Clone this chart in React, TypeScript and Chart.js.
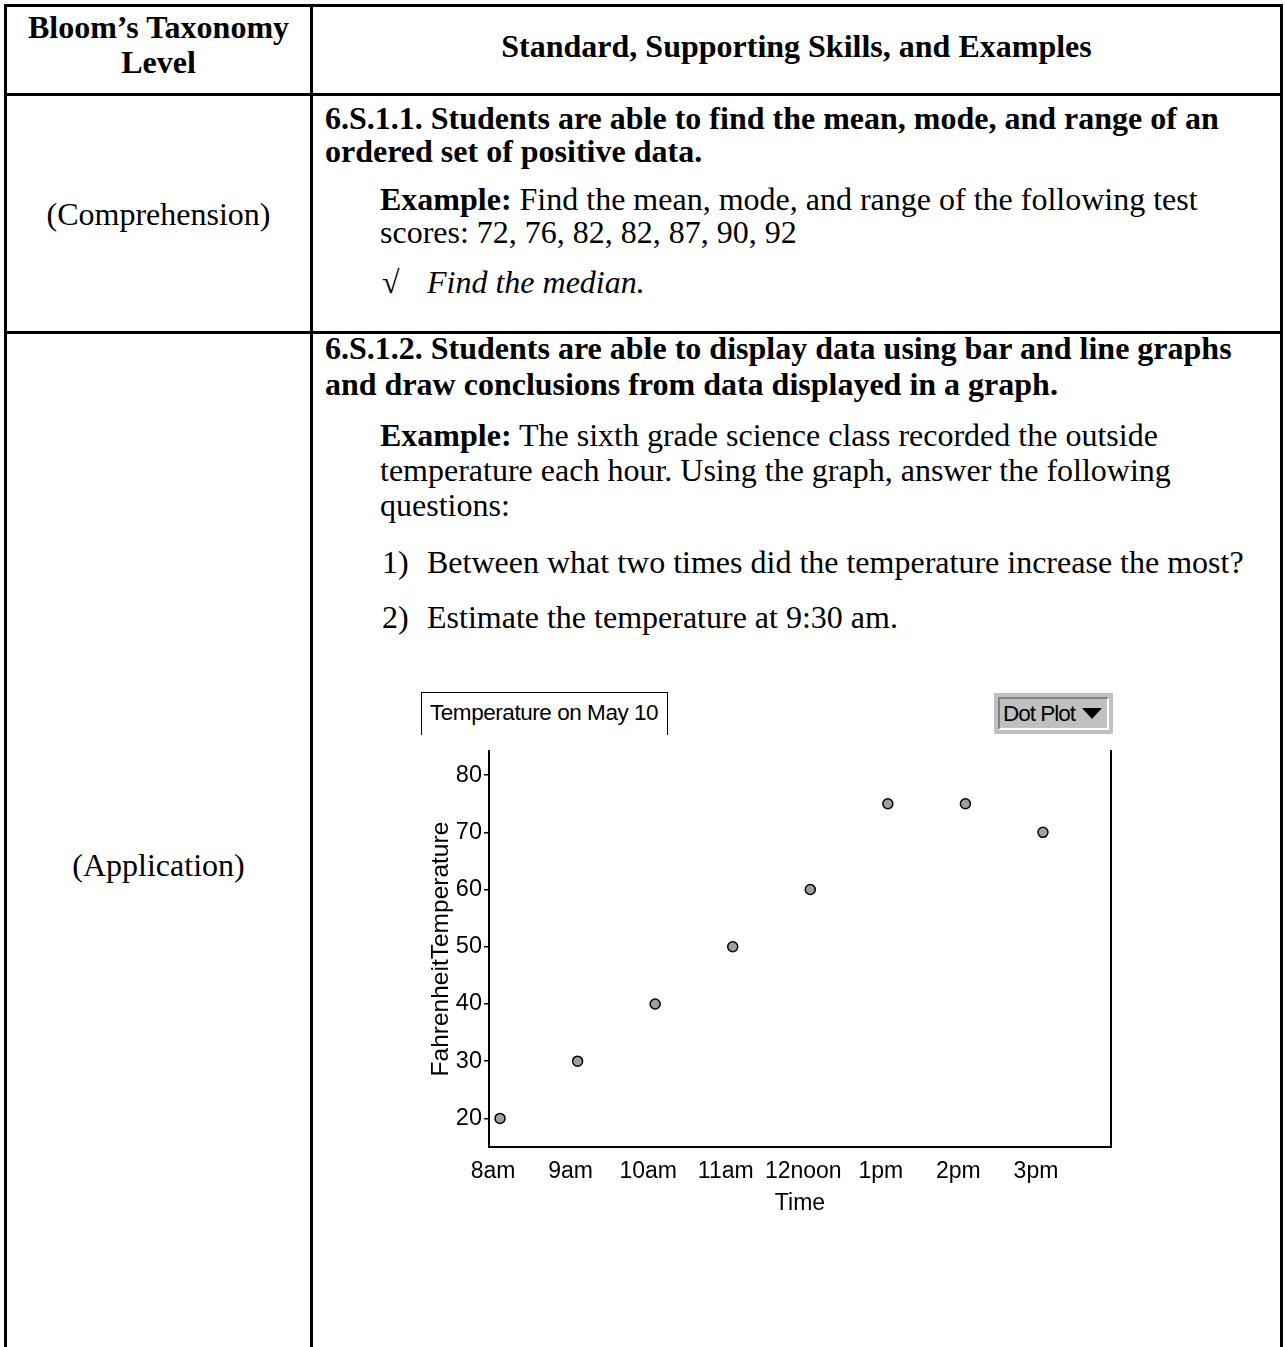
import React, { useEffect, useRef } from 'react';
import { Chart, registerables } from 'chart.js';

Chart.register(...registerables);

// ---- data ----
const TIMES = ['8am', '9am', '10am', '11am', '12noon', '1pm', '2pm', '3pm'];
const TEMPS = [20, 30, 40, 50, 60, 75, 75, 70];
const Y_TICKS = [20, 30, 40, 50, 60, 70, 80];
const X_TITLE = 'Time';
const Y_TITLE = 'FahrenheitTemperature';
const CHART_TITLE = 'Temperature on May 10';
const MENU_LABEL = 'Dot Plot';

const SERIF = "'Liberation Serif', 'Times New Roman', Times, serif";
const SANS = "'Liberation Sans', Arial, Helvetica, sans-serif";
const FS = 32;
const LH = 36;

type TxtProps = {
  cy: number;
  x: number;
  w?: number;
  align?: 'left' | 'center';
  bold?: boolean;
  italic?: boolean;
  children: React.ReactNode;
};

function Txt({ cy, x, w, align, bold, italic, children }: TxtProps) {
  return (
    <div
      style={{
        position: 'absolute',
        left: x,
        top: cy - LH / 2,
        width: w,
        textAlign: align || 'left',
        fontFamily: SERIF,
        fontSize: FS,
        lineHeight: LH + 'px',
        fontWeight: bold ? 'bold' : 'normal',
        fontStyle: italic ? 'italic' : 'normal',
        whiteSpace: 'nowrap',
        color: '#000',
      }}
    >
      {children}
    </div>
  );
}

function Rule({ x, y, w, h }: { x: number; y: number; w: number; h: number }) {
  return <div style={{ position: 'absolute', left: x, top: y, width: w, height: h, background: '#000' }} />;
}

function TempChart() {
  const ref = useRef<HTMLCanvasElement>(null);
  useEffect(() => {
    const chart = new Chart(ref.current as HTMLCanvasElement, {
      type: 'scatter',
      data: {
        datasets: [
          {
            data: TEMPS.map((t, i) => ({ x: i, y: t })),
            backgroundColor: '#a0a0a0',
            borderColor: '#000',
            borderWidth: 1.5,
            pointRadius: 5,
            pointHoverRadius: 5,
          },
        ],
      },
      options: {
        animation: false,
        responsive: true,
        maintainAspectRatio: false,
        events: [],
        layout: { padding: { left: 0, right: 9, top: 0, bottom: 0 } },
        plugins: {
          legend: { display: false },
          tooltip: { enabled: false },
          title: { display: false },
        },
        scales: {
          x: {
            type: 'linear',
            min: -0.142,
            max: 7.877,
            afterBuildTicks: (s: any) => {
              s.ticks = TIMES.map((_, i) => ({ value: i }));
            },
            afterFit: (s: any) => {
              s.height = 75;
            },
            ticks: {
              callback: (v: any) => TIMES[v] ?? '',
              color: '#000',
              font: { family: SANS, size: 23 },
              padding: 11,
              labelOffset: -7,
              maxRotation: 0,
              autoSkip: false,
            },
            grid: { display: false, drawTicks: false },
            border: { display: true, color: '#000', width: 2 },
            title: {
              display: true,
              text: X_TITLE,
              color: '#000',
              font: { family: SANS, size: 23 },
              padding: { top: 0, bottom: 5 },
            },
          },
          y: {
            type: 'linear',
            position: 'left',
            min: 15,
            max: 84.2,
            afterBuildTicks: (s: any) => {
              s.ticks = Y_TICKS.map((v) => ({ value: v }));
            },
            afterFit: (s: any) => {
              s.width = 89;
            },
            ticks: { color: '#000', font: { family: SANS, size: 23.5 }, padding: 2 },
            grid: {
              display: true,
              drawOnChartArea: false,
              drawTicks: true,
              tickLength: 5,
              color: '#000',
              lineWidth: 1.5,
            },
            border: { display: true, color: '#000', width: 2 },
            title: {
              display: true,
              text: Y_TITLE,
              color: '#000',
              font: { family: SANS, size: 24.5 },
              padding: { top: 27, bottom: 0 },
            },
          },
          y2: {
            type: 'linear',
            position: 'right',
            min: 15,
            max: 84.2,
            afterFit: (s: any) => {
              s.width = 0;
            },
            ticks: { display: false },
            grid: { display: false, drawTicks: false },
            border: { display: true, color: '#000', width: 2 },
          },
        },
      } as any,
    });
    return () => chart.destroy();
  }, []);
  return (
    <div style={{ position: 'absolute', left: 400, top: 735, width: 720, height: 487 }}>
      <canvas ref={ref} />
    </div>
  );
}

export default function App() {
  const c2 = 380;
  const bx = 382;
  const tx = 427;
  return (
    <div
      style={{
        position: 'absolute',
        left: 0,
        top: 0,
        width: 1285,
        height: 1347,
        overflow: 'hidden',
        background: '#fff',
      }}
    >
      {/* table rules */}
      <Rule x={4} y={4} w={1279} h={3} />
      <Rule x={4} y={4} w={3} h={1343} />
      <Rule x={1280} y={4} w={3} h={1343} />
      <Rule x={310} y={4} w={3} h={1343} />
      <Rule x={4} y={93} w={1279} h={3} />
      <Rule x={4} y={331} w={1279} h={3} />

      {/* header */}
      <Txt cy={27} x={7} w={303} align="center" bold>
        Bloom’s Taxonomy
      </Txt>
      <Txt cy={62} x={7} w={303} align="center" bold>
        Level
      </Txt>
      <Txt cy={46} x={313} w={967} align="center" bold>
        Standard, Supporting Skills, and Examples
      </Txt>

      {/* row 1 */}
      <Txt cy={214} x={7} w={303} align="center">
        (Comprehension)
      </Txt>
      <Txt cy={118} x={325} bold>
        6.S.1.1. Students are able to find the mean, mode, and range of an
      </Txt>
      <Txt cy={151} x={325} bold>
        ordered set of positive data.
      </Txt>
      <Txt cy={199} x={c2}>
        <b>Example:</b> Find the mean, mode, and range of the following test
      </Txt>
      <Txt cy={232} x={c2}>
        scores: 72, 76, 82, 82, 87, 90, 92
      </Txt>
      <Txt cy={282} x={bx}>
        √
      </Txt>
      <Txt cy={282} x={tx} italic>
        Find the median.
      </Txt>

      {/* row 2 */}
      <Txt cy={865} x={7} w={303} align="center">
        (Application)
      </Txt>
      <Txt cy={348} x={325} bold>
        6.S.1.2. Students are able to display data using bar and line graphs
      </Txt>
      <Txt cy={384} x={325} bold>
        and draw conclusions from data displayed in a graph.
      </Txt>
      <Txt cy={435} x={c2}>
        <b>Example:</b> The sixth grade science class recorded the outside
      </Txt>
      <Txt cy={470} x={c2}>
        temperature each hour. Using the graph, answer the following
      </Txt>
      <Txt cy={505} x={c2}>
        questions:
      </Txt>
      <Txt cy={562} x={bx}>
        1)
      </Txt>
      <Txt cy={562} x={tx}>
        Between what two times did the temperature increase the most?
      </Txt>
      <Txt cy={617} x={bx}>
        2)
      </Txt>
      <Txt cy={617} x={tx}>
        Estimate the temperature at 9:30 am.
      </Txt>

      {/* chart title box */}
      <div
        style={{
          position: 'absolute',
          left: 421,
          top: 692,
          width: 247,
          height: 43,
          boxSizing: 'border-box',
          borderTop: '1.5px solid #000',
          borderLeft: '1.5px solid #000',
          borderRight: '1.5px solid #000',
          background: '#fff',
          fontFamily: SANS,
          fontSize: 22.5,
          lineHeight: '40px',
          paddingLeft: 8,
          letterSpacing: '-0.45px',
          whiteSpace: 'nowrap',
          color: '#000',
        }}
      >
        {CHART_TITLE}
      </div>

      {/* dot plot menu */}
      <div
        style={{
          position: 'absolute',
          left: 994,
          top: 693,
          width: 119,
          height: 41,
          boxSizing: 'border-box',
          background: '#c0c0c0',
          padding: 4,
        }}
      >
        <div
          style={{
            width: '100%',
            height: '100%',
            boxSizing: 'border-box',
            borderTop: '2px solid #808080',
            borderLeft: '2px solid #808080',
            borderBottom: '2px solid #fff',
            borderRight: '2px solid #fff',
            display: 'flex',
            alignItems: 'center',
            paddingLeft: 3,
            fontFamily: SANS,
            fontSize: 22.5,
            letterSpacing: '-1px',
            whiteSpace: 'nowrap',
            color: '#000',
          }}
        >
          {MENU_LABEL}
          <div
            style={{
              width: 0,
              height: 0,
              marginLeft: 7,
              borderLeft: '10px solid transparent',
              borderRight: '10px solid transparent',
              borderTop: '11px solid #000',
            }}
          />
        </div>
      </div>

      <TempChart />
    </div>
  );
}
